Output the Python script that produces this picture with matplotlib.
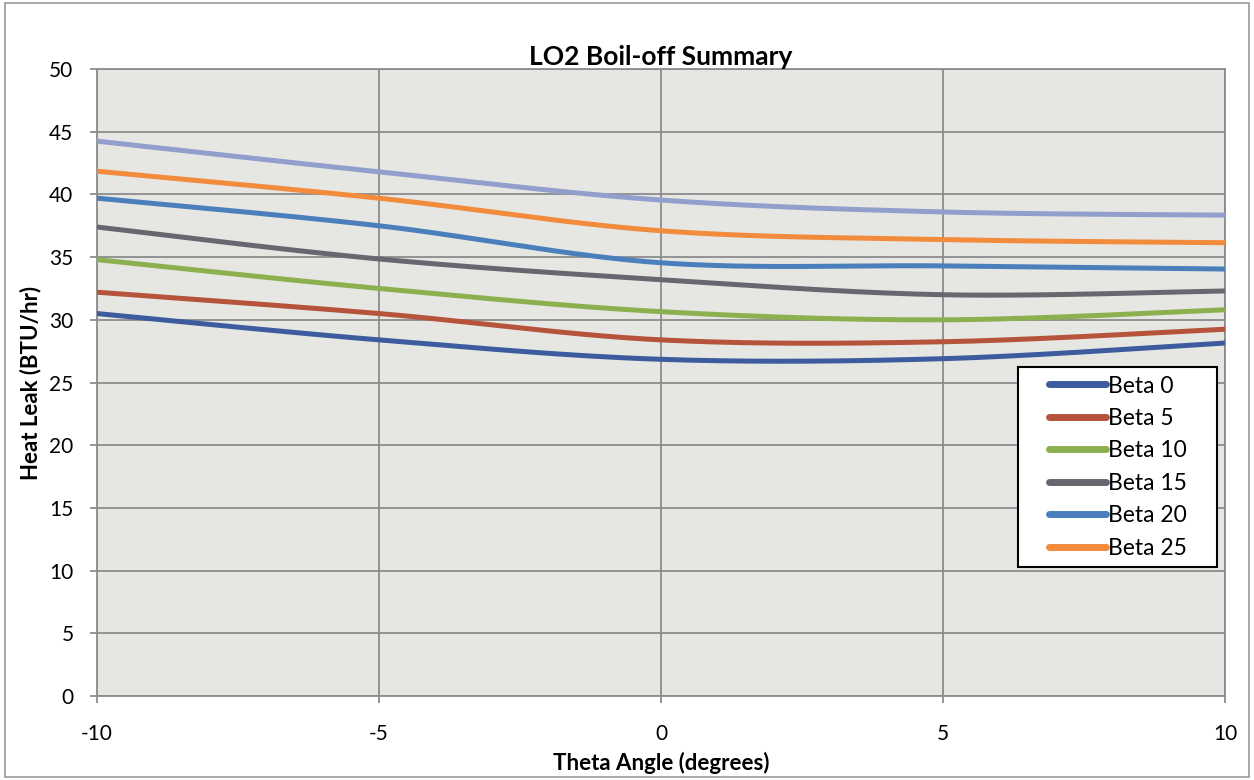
import numpy as np
import matplotlib
matplotlib.use("Agg")
import matplotlib.pyplot as plt
from matplotlib.patches import Rectangle

theta = [-10, -5, 0, 5, 10]

beta_0 = [30.5, 28.4, 26.85, 26.9, 28.15]
beta_5 = [32.2, 30.5, 28.4, 28.25, 29.25]
beta_10 = [34.8, 32.5, 30.65, 30.0, 30.8]
beta_15 = [37.4, 34.85, 33.2, 32.0, 32.3]
beta_20 = [39.7, 37.5, 34.55, 34.3, 34.05]
beta_25 = [41.85, 39.7, 37.1, 36.4, 36.15]
beta_30 = [44.25, 41.8, 39.55, 38.6, 38.35]

labels = ["Beta 0", "Beta 5", "Beta 10", "Beta 15", "Beta 20", "Beta 25", None]
colors = ["#3d5c9e", "#b5533b", "#8cb050", "#6a6670", "#4a7fbb", "#f28b3c", "#929fcd"]


def smooth(xs, ys, n=40):
    # excel style smoothed line: cubic bezier with catmull-rom control points
    xs = np.asarray(xs, float)
    ys = np.asarray(ys, float)
    px = np.concatenate([[xs[0]], xs, [xs[-1]]])
    py = np.concatenate([[ys[0]], ys, [ys[-1]]])
    out_x, out_y = [], []
    t = np.linspace(0, 1, n)
    for i in range(1, len(px) - 2):
        p0 = np.array([px[i], py[i]])
        p3 = np.array([px[i + 1], py[i + 1]])
        c1 = p0 + (np.array([px[i + 1], py[i + 1]]) - np.array([px[i - 1], py[i - 1]])) / 6
        c2 = p3 - (np.array([px[i + 2], py[i + 2]]) - np.array([px[i], py[i]])) / 6
        b = ((1 - t) ** 3)[:, None] * p0 + (3 * (1 - t) ** 2 * t)[:, None] * c1 \
            + (3 * (1 - t) * t ** 2)[:, None] * c2 + (t ** 3)[:, None] * p3
        out_x.extend(b[:, 0])
        out_y.extend(b[:, 1])
    return out_x, out_y


plt.rcParams['font.family'] = ['Lato', 'DejaVu Sans']
plt.rcParams['axes.unicode_minus'] = False

fig = plt.figure(figsize=(12.54, 7.8), dpi=100)
fig.patch.set_facecolor("white")
fig.patches.append(Rectangle((0.004, 0.004), 0.992, 0.992, transform=fig.transFigure,
                             fill=False, edgecolor="#9a9a9a", linewidth=1.2))

ax = fig.add_axes([0.0774, 0.1077, 0.8995, 0.8038])
ax.set_facecolor("#e6e6e2")

series = [beta_0, beta_5, beta_10, beta_15, beta_20, beta_25, beta_30]
for vals, lab, col in zip(series, labels, colors):
    sx, sy = smooth(theta, vals)
    ax.plot(sx, sy, color=col, linewidth=3.6, solid_capstyle="round",
            label=lab if lab else "_nolegend_", zorder=3)

ax.set_xlim(-10, 10)
ax.set_ylim(0, 50)
ax.set_xticks([-10, -5, 0, 5, 10])
ax.set_yticks(range(0, 51, 5))
ax.grid(True, color="#8c8c8c", linewidth=1.3, zorder=1)
ax.set_axisbelow(True)
for s in ax.spines.values():
    s.set_color("#8c8c8c")
    s.set_linewidth(1.3)
ax.tick_params(axis="both", colors="#8c8c8c", labelcolor="black", labelsize=15,
               length=5, width=1.3)
ax.tick_params(axis="y", pad=12)
ax.tick_params(axis="x", pad=15)

ax.set_title("LO2 Boil-off Summary", fontsize=19, fontweight="bold", pad=-4)
ax.set_xlabel("Theta Angle (degrees)", fontsize=16, fontweight="bold", labelpad=6)
ax.set_ylabel("Heat Leak (BTU/hr)", fontsize=16, fontweight="bold", labelpad=6)

# legend frame drawn separately so the padding matches the excel box
ax.add_patch(Rectangle((0.8165, 0.2057), 0.1764, 0.319, transform=ax.transAxes,
                       facecolor="white", edgecolor="black", linewidth=1.5, zorder=4))
leg = ax.legend(loc="center", bbox_to_anchor=(0.905, 0.365), fontsize=16.5,
                frameon=False, handlelength=2.5, handletextpad=0.1,
                labelspacing=0.5, borderpad=0, borderaxespad=0)
leg.set_zorder(5)
for h in leg.get_lines():
    h.set_linewidth(5)

fig.savefig("out.png", dpi=100)
